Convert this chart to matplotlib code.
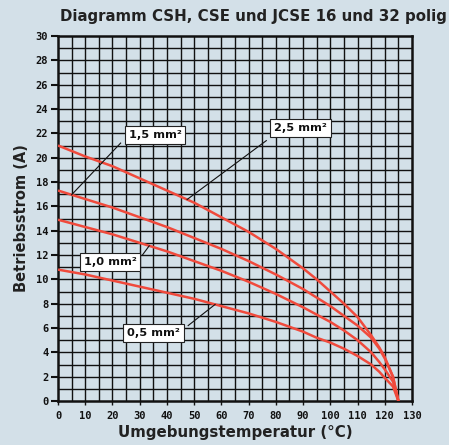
import numpy as np
import matplotlib.pyplot as plt

# Umgebungstemperatur (°C) und zulässiger Betriebsstrom (A) je Querschnitt
temp = [0, 10, 20, 30, 40, 50, 60, 70, 80, 90, 95, 100, 105, 110, 115, 118, 120, 123, 125]
strom_25 = [21.0, 20.1, 19.3, 18.3, 17.3, 16.3, 15.1, 13.9, 12.5, 10.9, 10.0, 9.0, 8.0, 6.9, 5.4, 4.4, 3.6, 2.0, 0.0]
strom_15 = [17.3, 16.6, 15.9, 15.1, 14.3, 13.4, 12.5, 11.5, 10.4, 9.2, 8.5, 7.8, 7.0, 6.2, 5.2, 4.3, 3.5, 2.0, 0.0]
strom_10 = [14.9, 14.3, 13.7, 13.0, 12.3, 11.5, 10.7, 9.8, 8.8, 7.7, 7.1, 6.5, 5.8, 5.0, 4.0, 3.2, 2.6, 1.6, 0.0]
strom_05 = [10.8, 10.4, 9.9, 9.4, 8.9, 8.4, 7.8, 7.2, 6.5, 5.7, 5.2, 4.8, 4.3, 3.7, 3.0, 2.4, 1.9, 1.2, 0.0]

kurven = [strom_25, strom_15, strom_10, strom_05]

# Beschriftungen: Text, Position der Box, Anfang der Hinweislinie, Temperatur am Kurvenpunkt
labels = ["2,5 mm²", "1,5 mm²", "1,0 mm²", "0,5 mm²"]
label_pos = [(88.9, 22.4), (35.6, 21.9), (19.1, 11.4), (35.0, 5.6)]
label_start = [(76.5, 21.4), (23.0, 21.2), (31.0, 12.0), (47.8, 6.2)]
label_temp = [47.4, 5.0, 33.5, 57.7]

bg = '#d3e0e8'
rot = '#f04a3c'

fig = plt.figure(figsize=(4.49, 4.45), dpi=100, facecolor=bg)
ax = fig.add_axes([58/449, 1-401/445, 354/449, 365/445], facecolor=bg)

ax.set_xlim(0, 130)
ax.set_ylim(0, 30)

# Raster: alle 5 °C und alle 1 A
for x in np.arange(5, 130, 5):
    ax.axvline(x, color='#111111', lw=1.0, zorder=1)
for y in np.arange(1, 30, 1):
    ax.axhline(y, color='#111111', lw=1.0, zorder=1)

for s in ax.spines.values():
    s.set_linewidth(1.8)
    s.set_color('#111111')

for werte in kurven:
    ax.plot(temp, werte, color=rot, lw=1.8, zorder=3, solid_capstyle='butt',
            solid_joinstyle='round')

for text, pos, start, t, werte in zip(labels, label_pos, label_start, label_temp, kurven):
    i = np.interp(t, temp, werte)
    ax.plot([start[0], t], [start[1], i], color='#111111', lw=0.8, zorder=4)
    ax.text(pos[0], pos[1], text, ha='center', va='center', fontsize=8.2,
            fontweight='bold', family='DejaVu Sans', color='#111111', zorder=5,
            bbox=dict(boxstyle='square,pad=0.35', fc='white', ec='#222222', lw=0.8))

mono = {'family': 'DejaVu Sans Mono', 'weight': 'bold', 'size': 7.5}
ax.set_xticks(np.arange(0, 131, 10))
ax.set_yticks(np.arange(0, 31, 2))
ax.set_xticklabels([str(v) for v in range(0, 131, 10)], fontdict=mono)
ax.set_yticklabels([str(v) for v in range(0, 31, 2)], fontdict=mono)
ax.tick_params(axis='y', length=5, width=1.5, pad=2, colors='#111111')
ax.tick_params(axis='x', length=3, width=1.0, pad=4, colors='#111111')

ax.set_xlabel('Umgebungstemperatur (°C)', fontsize=10.8, fontweight='bold',
              color='#222222', labelpad=3)
ax.set_ylabel('Betriebsstrom (A)', fontsize=10.5, fontweight='bold',
              color='#222222', labelpad=5)

fig.text(447/449, 1-17/445, 'Diagramm CSH, CSE und JCSE 16 und 32 polig',
         ha='right', va='center', fontsize=10.8, fontweight='bold', color='#222222')

fig.savefig('out.png', dpi=100, facecolor=bg)
